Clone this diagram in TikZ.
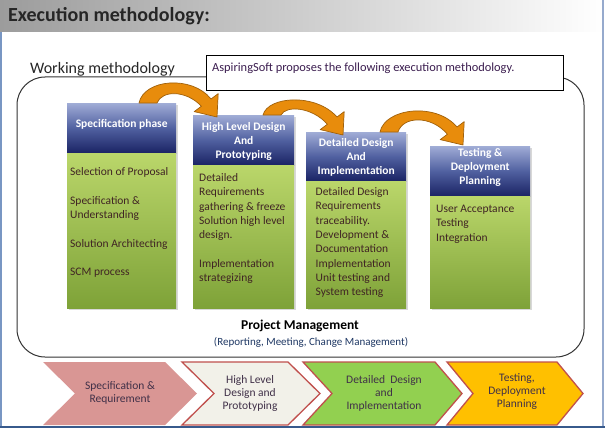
\documentclass[tikz,border=0pt]{standalone}
\usepackage{fontspec}
\setmainfont{Carlito}
\usetikzlibrary{shadows,calc}
\definecolor{titlegray}{RGB}{156,156,156}
\definecolor{titletext}{RGB}{38,38,38}
\definecolor{hdtop}{RGB}{160,172,214}
\definecolor{hdmid}{RGB}{80,96,160}
\definecolor{hdbot}{RGB}{26,35,100}
\definecolor{bdtop}{RGB}{186,214,106}
\definecolor{bdbot}{RGB}{126,162,56}
\definecolor{bodytext}{RGB}{64,36,36}
\definecolor{chevtext}{RGB}{64,48,72}
\definecolor{callouttext}{RGB}{60,30,80}
\definecolor{subtext}{RGB}{31,56,100}
\definecolor{arrowfill}{RGB}{232,140,12}
\definecolor{arrowdraw}{RGB}{160,96,10}
\definecolor{chevpink}{RGB}{217,150,148}
\definecolor{chevcream}{RGB}{242,241,233}
\definecolor{chevgreen}{RGB}{146,208,80}
\definecolor{chevgold}{RGB}{255,192,0}
\definecolor{chevborder}{RGB}{192,80,77}
\definecolor{frameleft}{RGB}{120,150,195}
\definecolor{frameright}{RGB}{150,170,205}
\definecolor{framebottom}{RGB}{55,90,140}
\begin{document}
\begin{tikzpicture}[x=1pt,y=-1pt,
  hdr/.style={anchor=north west, inner sep=0pt, top color=hdtop, bottom color=hdbot, middle color=hdmid, draw=none,
    drop shadow={shadow xshift=1.5pt, shadow yshift=-1.5pt, opacity=0.3}},
  bdy/.style={anchor=north west, inner sep=0pt, top color=bdtop, bottom color=bdbot, draw=none,
    drop shadow={shadow xshift=1.5pt, shadow yshift=-1.5pt, opacity=0.3}},
  hdrtext/.style={text=white, font=\fontsize{11.5}{14}\selectfont\bfseries, align=center, inner sep=0pt},
  bodytxt/.style={anchor=base west, inner sep=0pt, text=bodytext, font=\fontsize{11.5}{14.3}\selectfont},
  chevtxt/.style={align=center, inner sep=0pt, text=chevtext, font=\fontsize{11.5}{13}\selectfont},
  bendarrow/.style={fill=arrowfill, draw=arrowdraw, line width=0.7pt, line join=round},
  chevron/.style={line width=1.3pt, draw=chevborder, line join=miter}
]
\useasboundingbox (0,0) rectangle (605,428);
\fill[white] (0,0) rectangle (605,428);
% title bar
\shade[left color=titlegray, right color=white] (0,0) rectangle (605,32);
\node[anchor=base west, inner sep=0pt, font=\fontsize{20}{24}\selectfont\bfseries, text=titletext] (title) at (8,22) {Execution methodology:};
% frame
\draw[frameleft, line width=1.5pt] (1,32) -- (1,426);
\draw[frameright, line width=1.5pt] (603,0) -- (603,426);
\fill[framebottom] (0,425.5) rectangle (605,427.5);
\fill[black!25] (0,427.5) rectangle (605,428);
% working methodology frame
\draw[line width=1pt, draw=black!80, rounded corners=28pt] (17,77) rectangle (584,357);
\node[anchor=base west, inner sep=0pt, font=\fontsize{16}{19}\selectfont, text=titletext] (wm) at (30,73.3) {Working methodology};
% callout
\node[anchor=north west, draw=black, line width=1.2pt, fill=white, minimum width=357pt, minimum height=35pt, inner sep=0pt] (callout) at (206,55) {};
\node[anchor=base west, inner sep=0pt, font=\fontsize{12.4}{14}\selectfont, text=callouttext] (callouttxt) at (212,71.5) {AspiringSoft proposes the following execution methodology.};
% columns
\node[hdr, minimum width=109pt, minimum height=50pt] (h1) at (67,103) {};
\node[bdy, minimum width=109pt, minimum height=155pt] (b1) at (h1.south west) {};
\node[hdr, minimum width=101pt, minimum height=50pt] (h2) at (193,115) {};
\node[bdy, minimum width=101pt, minimum height=143pt] (b2) at (h2.south west) {};
\node[hdr, minimum width=100pt, minimum height=49pt] (h3) at (306,132) {};
\node[bdy, minimum width=100pt, minimum height=127pt] (b3) at (h3.south west) {};
\node[hdr, minimum width=100pt, minimum height=50pt] (h4) at (430,146) {};
\node[bdy, minimum width=100pt, minimum height=112pt] (b4) at (h4.south west) {};
% header texts
\node[hdrtext] (t1) at ($(h1.center)+(0,-4)$) {Specification phase};
\node[hdrtext] (t2) at ($(h2.center)+(0,1)$) {High Level Design\\And\\Prototyping};
\node[hdrtext] (t3) at ($(h3.center)+(0,0.5)$) {Detailed Design\\And\\Implementation};
\node[hdrtext] (t4) at ($(h4.center)+(0,-4)$) {Testing \&\\Deployment\\Planning};
% body texts
\node[bodytxt] (x1) at (70,175.5) {\parbox[t]{105pt}{\raggedright Selection of Proposal\\[14.3pt]Specification \&\\Understanding\\[14.3pt]Solution Architecting\\[14.3pt]SCM process}};
\node[bodytxt] (x2) at (199,181.5) {\parbox[t]{95pt}{\raggedright Detailed\\Requirements\\gathering \& freeze\\Solution high level\\design.\\[14.3pt]Implementation\\strategizing}};
\node[bodytxt] (x3) at (315.5,195.5) {\parbox[t]{95pt}{\raggedright Detailed Design\\Requirements\\traceability.\\Development \&\\Documentation\\Implementation\\Unit testing and\\System testing}};
\node[bodytxt] (x4) at (436,212.5) {\parbox[t]{95pt}{\raggedright User Acceptance\\Testing\\Integration}};
% curved block arrows between the phase headers
\path[bendarrow] (139,103) .. controls (144,79) and (192,75) .. (211,99) -- (218.2,93.6) -- (217,117) -- (194.2,111.6) -- (201.4,106.2) .. controls (186,90) and (162,90) .. (157,103) -- cycle;
\path[bendarrow] (263,115) .. controls (268,96) and (316,93) .. (337,117) -- (344.2,111.6) -- (343,135) -- (320.2,129.6) -- (327.4,124.2) .. controls (312,107) and (286,105) .. (281,115) -- cycle;
\path[bendarrow] (380,132) .. controls (385,108) and (436,102) .. (457,127) -- (464.2,121.6) -- (463,145) -- (440.2,139.6) -- (447.4,134.2) .. controls (431,115) and (403,116) .. (398,132) -- cycle;
% project management
\node[inner sep=0pt, font=\fontsize{13.5}{16}\selectfont\bfseries, text=black] (pm) at (300,326) {Project Management};
\node[inner sep=0pt, font=\fontsize{11}{13}\selectfont, text=subtext] (pmsub) at (311,342) {(Reporting, Meeting, Change Management)};
% chevrons
\fill[chevpink] (43,362) -- (165,362) -- (197,393.5) -- (165,425) -- (43,425) -- (75,393.5) -- cycle;
\filldraw[chevron, fill=chevcream] (182,362) -- (288,362) -- (320,393.5) -- (288,425) -- (182,425) -- (214,393.5) -- cycle;
\filldraw[chevron, fill=chevgreen] (303,362) -- (435,362) -- (462,393.5) -- (435,425) -- (303,425) -- (332,393.5) -- cycle;
\filldraw[chevron, fill=chevgold] (447,362) -- (557,362) -- (583,393.5) -- (557,425) -- (447,425) -- (473,393.5) -- cycle;
\node[chevtxt] (c1) at (120,393) {Specification \&\\Requirement};
\node[chevtxt] (c2) at (250,393) {High Level\\Design and\\Prototyping};
\node[chevtxt] (c3) at (384,393) {Detailed~ Design\\and\\Implementation};
\node[chevtxt] (c4) at (517,392) {Testing,\\Deployment\\Planning};
\end{tikzpicture}
\end{document}
